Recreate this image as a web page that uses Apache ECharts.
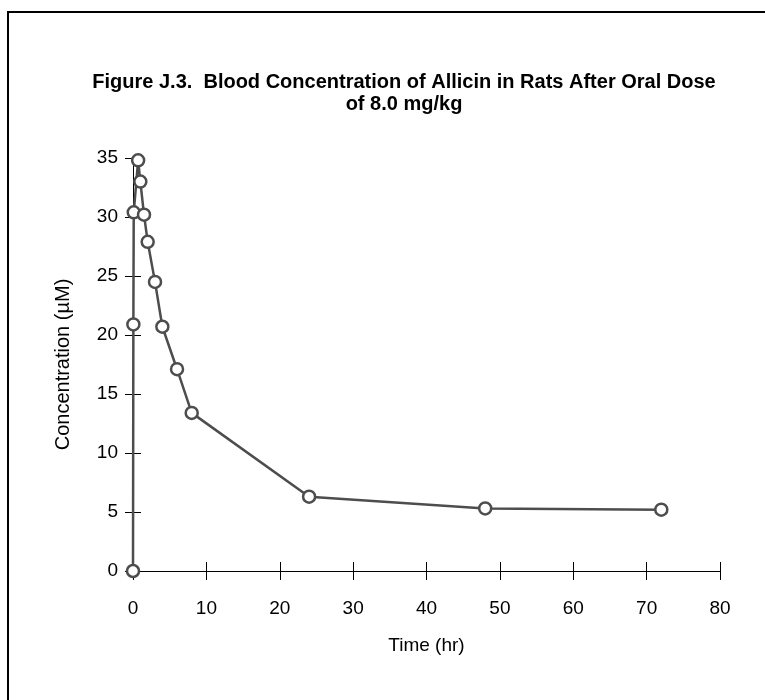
<!DOCTYPE html>
<html>
<head>
<meta charset="utf-8">
<script src="https://cdn.jsdelivr.net/npm/echarts@6/dist/echarts.min.js"></script>
<style>
  html, body { margin: 0; padding: 0; background: #fff; }
  #chart { width: 765px; height: 700px; }
</style>
</head>
<body>
<div id="chart"></div>
<script>
// time after dose (hr) and blood concentration (uM)
var timeHr = [0, 0.05, 0.1, 0.7, 1, 1.5, 2, 3, 4, 6, 8, 24, 48, 72];
var concUM = [0, 20.9, 30.4, 34.8, 33.0, 30.2, 27.9, 24.5, 20.7, 17.1, 13.4, 6.3, 5.3, 5.2];

var titleText = 'Figure J.3.  Blood Concentration of Allicin in Rats After Oral Dose\nof 8.0 mg/kg';
var xName = 'Time (hr)';
var yName = 'Concentration (\u00b5M)';

var points = timeHr.map(function(t, i) { return [t, concUM[i]]; });

var font = 'Liberation Sans, Arial, sans-serif';
var ink = '#4d4d4d';

var chart = echarts.init(document.getElementById('chart'));
chart.setOption({
    backgroundColor: '#fff',
    animation: false,
    title: {
        text: titleText,
        left: 399,
        textAlign: 'center',
        top: 66,
        textStyle: {
            fontFamily: font,
            fontSize: 20,
            fontWeight: 'bold',
            color: '#000',
            lineHeight: 22
        }
    },
    graphic: [{
        type: 'rect',
        shape: { x: 8, y: 12, width: 820, height: 800 },
        style: { fill: null, stroke: '#000', lineWidth: 2 }
    }],
    grid: { left: 133, right: 45, top: 158, bottom: 129 },
    xAxis: [{
        type: 'value',
        position: 'bottom',
        min: 0, max: 80, interval: 10,
        name: xName,
        nameLocation: 'middle',
        nameGap: 65,
        nameTextStyle: { fontFamily: font, fontSize: 19, color: '#000' },
        axisLine: { onZero: false, lineStyle: { color: '#000', width: 1 } },
        axisTick: { show: false },
        axisLabel: { margin: 28, fontFamily: font, fontSize: 19, color: '#000' },
        splitLine: { show: false }
    }, {
        // second copy only to draw ticks that cross the axis line
        type: 'value',
        position: 'bottom',
        offset: 9,
        min: 0, max: 80, interval: 10,
        axisLine: { show: false, onZero: false },
        axisTick: { show: true, inside: true, length: 18, lineStyle: { color: '#000', width: 1 } },
        axisLabel: { show: false },
        splitLine: { show: false }
    }],
    yAxis: [{
        type: 'value',
        position: 'left',
        min: 0, max: 35, interval: 5,
        name: yName,
        nameLocation: 'middle',
        nameGap: 60,
        nameTextStyle: { fontFamily: font, fontSize: 20, color: '#000' },
        axisLine: { show: true, onZero: false, lineStyle: { color: '#000', width: 1 } },
        axisTick: { show: false },
        axisLabel: { margin: 15, fontFamily: font, fontSize: 19, color: '#000' },
        splitLine: { show: false }
    }, {
        type: 'value',
        position: 'left',
        offset: 8,
        min: 0, max: 35, interval: 5,
        axisLine: { show: false, onZero: false },
        axisTick: { show: true, inside: true, length: 16, lineStyle: { color: '#000', width: 1 } },
        axisLabel: { show: false },
        splitLine: { show: false }
    }],
    series: [{
        type: 'line',
        xAxisIndex: 0,
        yAxisIndex: 0,
        data: points,
        symbol: 'circle',
        symbolSize: 12,
        lineStyle: { color: ink, width: 2.5 },
        itemStyle: { color: '#fff', borderColor: ink, borderWidth: 2.5 }
    }]
});
</script>
</body>
</html>
